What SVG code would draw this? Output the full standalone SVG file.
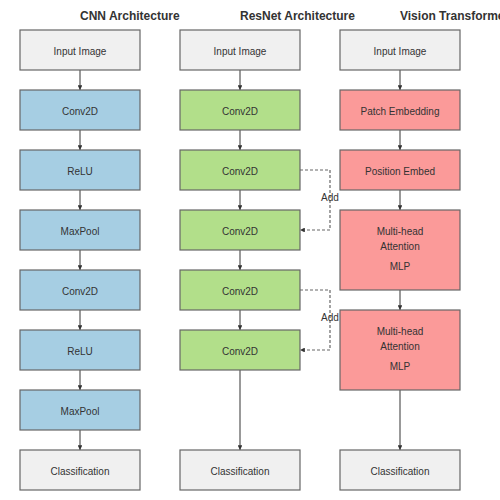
<svg xmlns="http://www.w3.org/2000/svg" width="500" height="500" viewBox="0 0 500 500">
<defs>
<style>
.title{font-family:"Liberation Sans",Arial,sans-serif;font-size:12px;font-weight:bold;fill:#333}
.lbl{font-family:"Liberation Sans",Arial,sans-serif;font-size:10px;fill:#333;text-anchor:middle;dominant-baseline:central}
.box{stroke:#666;stroke-width:1.2}
.in{fill:#f0f0f0}.cnn{fill:#a6cee3}.res{fill:#b2df8a}.vit{fill:#fb9a99}
.e{stroke:#555;stroke-width:1.2;fill:none;marker-end:url(#ah)}
.d{stroke:#666;stroke-width:1.2;fill:none;stroke-dasharray:3,2;marker-end:url(#ah)}
</style>
<marker id="ah" viewBox="0 0 6 6" refX="6" refY="3" markerWidth="4" markerHeight="4" orient="auto"><path d="M0,0L6,3L0,6z" fill="#333"/></marker>
</defs>
<rect width="500" height="500" fill="#fff"/>
<text class="title" x="80" y="20">CNN Architecture</text>
<text class="title" x="240" y="20">ResNet Architecture</text>
<text class="title" x="400" y="20">Vision Transformer</text>
<g id="connectors">
<path class="e" d="M80,70V90"/><path class="e" d="M80,130V150"/><path class="e" d="M80,190V210"/><path class="e" d="M80,250V270"/><path class="e" d="M80,310V330"/><path class="e" d="M80,370V390"/><path class="e" d="M80,430V450"/>
<path class="e" d="M240,70V90"/><path class="e" d="M240,130V150"/><path class="e" d="M240,190V210"/><path class="e" d="M240,250V270"/><path class="e" d="M240,310V330"/><path class="e" d="M240,370V450"/>
<path class="e" d="M400,70V90"/><path class="e" d="M400,130V150"/><path class="e" d="M400,190V210"/><path class="e" d="M400,290V310"/><path class="e" d="M400,390V450"/>
<path class="d" d="M300,170H330V230H300"/>
<path class="d" d="M300,290H330V350H300"/>
<text class="lbl" x="330" y="197">Add</text>
<text class="lbl" x="330" y="317">Add</text>
</g>
<g id="cnn_input"><rect class="box in" x="20" y="30" width="120" height="40"/><text class="lbl" x="80" y="51">Input Image</text></g>
<g id="cnn_conv1"><rect class="box cnn" x="20" y="90" width="120" height="40"/><text class="lbl" x="80" y="111">Conv2D</text></g>
<g id="cnn_relu1"><rect class="box cnn" x="20" y="150" width="120" height="40"/><text class="lbl" x="80" y="171">ReLU</text></g>
<g id="cnn_pool1"><rect class="box cnn" x="20" y="210" width="120" height="40"/><text class="lbl" x="80" y="231">MaxPool</text></g>
<g id="cnn_conv2"><rect class="box cnn" x="20" y="270" width="120" height="40"/><text class="lbl" x="80" y="291">Conv2D</text></g>
<g id="cnn_relu2"><rect class="box cnn" x="20" y="330" width="120" height="40"/><text class="lbl" x="80" y="351">ReLU</text></g>
<g id="cnn_pool2"><rect class="box cnn" x="20" y="390" width="120" height="40"/><text class="lbl" x="80" y="411">MaxPool</text></g>
<g id="cnn_cls"><rect class="box in" x="20" y="450" width="120" height="40"/><text class="lbl" x="80" y="471">Classification</text></g>
<g id="res_input"><rect class="box in" x="180" y="30" width="120" height="40"/><text class="lbl" x="240" y="51">Input Image</text></g>
<g id="res_conv1"><rect class="box res" x="180" y="90" width="120" height="40"/><text class="lbl" x="240" y="111">Conv2D</text></g>
<g id="res_conv2"><rect class="box res" x="180" y="150" width="120" height="40"/><text class="lbl" x="240" y="171">Conv2D</text></g>
<g id="res_conv3"><rect class="box res" x="180" y="210" width="120" height="40"/><text class="lbl" x="240" y="231">Conv2D</text></g>
<g id="res_conv4"><rect class="box res" x="180" y="270" width="120" height="40"/><text class="lbl" x="240" y="291">Conv2D</text></g>
<g id="res_conv5"><rect class="box res" x="180" y="330" width="120" height="40"/><text class="lbl" x="240" y="351">Conv2D</text></g>
<g id="res_cls"><rect class="box in" x="180" y="450" width="120" height="40"/><text class="lbl" x="240" y="471">Classification</text></g>
<g id="vit_input"><rect class="box in" x="340" y="30" width="120" height="40"/><text class="lbl" x="400" y="51">Input Image</text></g>
<g id="vit_patch"><rect class="box vit" x="340" y="90" width="120" height="40"/><text class="lbl" x="400" y="111">Patch Embedding</text></g>
<g id="vit_pos"><rect class="box vit" x="340" y="150" width="120" height="40"/><text class="lbl" x="400" y="171">Position Embed</text></g>
<g id="vit_block1"><rect class="box vit" x="340" y="210" width="120" height="80"/><text class="lbl" x="400" y="231">Multi-head</text><text class="lbl" x="400" y="246">Attention</text><text class="lbl" x="400" y="266">MLP</text></g>
<g id="vit_block2"><rect class="box vit" x="340" y="310" width="120" height="80"/><text class="lbl" x="400" y="331">Multi-head</text><text class="lbl" x="400" y="346">Attention</text><text class="lbl" x="400" y="366">MLP</text></g>
<g id="vit_cls"><rect class="box in" x="340" y="450" width="120" height="40"/><text class="lbl" x="400" y="471">Classification</text></g>
</svg>
